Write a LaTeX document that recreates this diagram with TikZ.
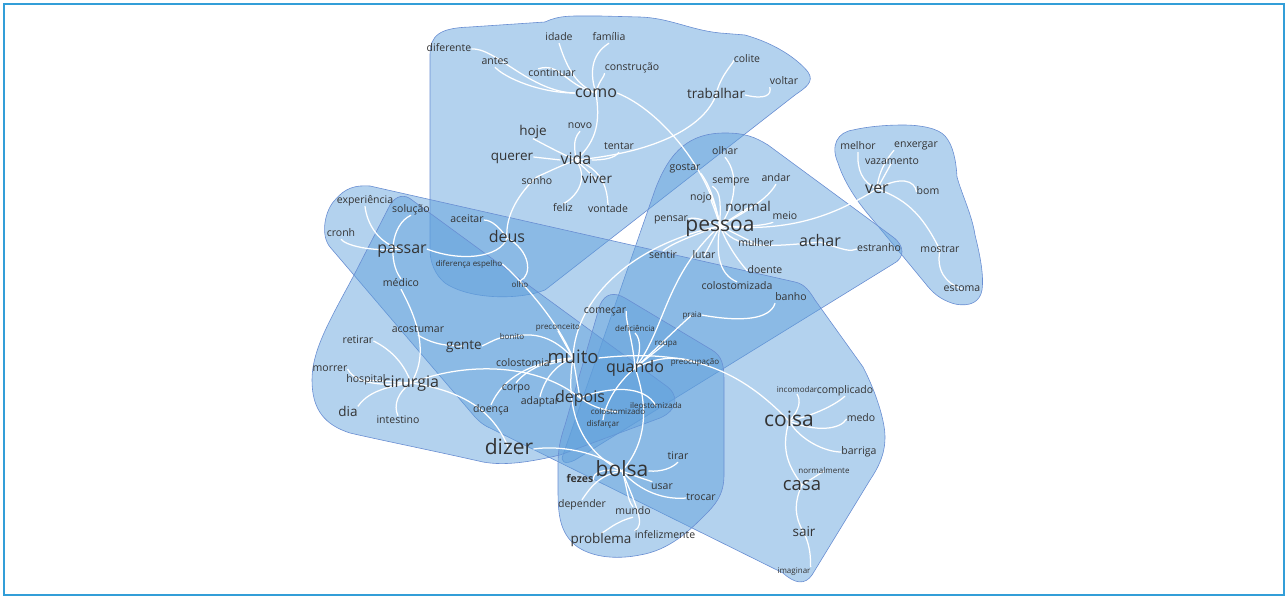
\documentclass[tikz,border=0pt]{standalone}
\usepackage{fontspec}
\setmainfont{Open Sans}
\definecolor{halofill}{RGB}{94,159,219}
\definecolor{haloline}{RGB}{105,142,210}
\definecolor{txt}{RGB}{51,51,51}
\definecolor{framec}{RGB}{50,158,216}
\pgfdeclarelayer{halos}
\pgfdeclarelayer{edges}
\pgfsetlayers{halos,edges,main}
\tikzset{
  lbl/.style={inner sep=0pt, text=txt},
  sA/.style={lbl, font=\fontsize{8}{8}\selectfont, text height=6pt, text depth=1.6pt},
  sB/.style={lbl, font=\fontsize{10.5}{10.5}\selectfont, text height=7.9pt, text depth=2.1pt},
  sC/.style={lbl, font=\fontsize{13.5}{13.5}\selectfont, text height=10.1pt, text depth=2.7pt},
  sD/.style={lbl, font=\fontsize{16}{16}\selectfont, text height=12pt, text depth=3.2pt},
  sE/.style={lbl, font=\fontsize{18.5}{18.5}\selectfont, text height=13.9pt, text depth=3.7pt},
  sF/.style={lbl, font=\fontsize{21}{21}\selectfont, text height=15.8pt, text depth=4.2pt},
  edge/.style={draw=white, line width=1.25pt},
  halo/.style={fill=halofill, fill opacity=0.47, draw=haloline, line width=0.6pt},
  framebox/.style={draw=framec, line width=1.6pt}
}
\begin{document}
\begin{tikzpicture}[x=1pt,y=-1pt]
\useasboundingbox (0,0) rectangle (1288,596);
\draw[framebox] (4,4) rectangle (1284,595);

% ---------- nodes
\node[sB] (diferente) at (449,49) {diferente};
\node[sB] (antes) at (495,62) {antes};
\node[sB] (idade) at (559,38) {idade};
\node[sB] (familia) at (609,38) {família};
\node[sB] (continuar) at (552,74) {continuar};
\node[sB] (construcao) at (632,68) {construção};
\node[sD] (como) at (596,93) {como};
\node[sB] (colite) at (747,60) {colite};
\node[sB] (voltar) at (784,82) {voltar};
\node[sC] (trabalhar) at (716,95) {trabalhar};
\node[sC] (hoje) at (533,132) {hoje};
\node[sB] (novo) at (580,126) {novo};
\node[sC] (querer) at (512,157) {querer};
\node[sD] (vida) at (576,160) {vida};
\node[sB] (tentar) at (619,147) {tentar};
\node[sB] (sonho) at (537,182) {sonho};
\node[sC] (viver) at (597,180) {viver};
\node[sB] (feliz) at (563,209) {feliz};
\node[sB] (vontade) at (608,210) {vontade};

\node[sB] (experiencia) at (365,201) {experiência};
\node[sB] (solucao) at (411,210) {solução};
\node[sB] (cronh) at (341,234) {cronh};
\node[sD] (passar) at (402,249) {passar};
\node[sB] (aceitar) at (467,220) {aceitar};
\node[sD] (deus) at (507,238) {deus};
\node[sA] (difesp) at (469,264) {diferença espelho};
\node[sA] (olho) at (520,285) {olho};
\node[sB] (medico) at (401,284) {médico};

\node[sB] (acostumar) at (418,330) {acostumar};
\node[sB] (retirar) at (358,341) {retirar};
\node[sC] (gente) at (464,346) {gente};
\node[sB] (morrer) at (330,369) {morrer};
\node[sB] (hospital) at (366,380) {hospital};
\node[sD] (cirurgia) at (411,383) {cirurgia};
\node[sC] (dia) at (348,413) {dia};
\node[sB] (intestino) at (398,421) {intestino};
\node[sA] (bonito) at (512,337) {bonito};
\node[sA] (preconceito) at (558,327) {preconceito};
\node[sB] (colostomia) at (523,364) {colostomia};
\node[sE] (muito) at (573,358) {muito};
\node[sB] (corpo) at (516,388) {corpo};
\node[sB] (doenca) at (491,410) {doença};
\node[sB] (adaptar) at (540,402) {adaptar};
\node[sD] (depois) at (580,398) {depois};
\node[sF] (dizer) at (509,449) {dizer};

\node[sB] (olhar) at (725,152) {olhar};
\node[sB] (gostar) at (685,168) {gostar};
\node[sB] (sempre) at (731,181) {sempre};
\node[sB] (andar) at (776,179) {andar};
\node[sB] (nojo) at (701,198) {nojo};
\node[sC] (normal) at (748,208) {normal};
\node[sB] (meio) at (785,217) {meio};
\node[sB] (pensar) at (671,219) {pensar};
\node[sF] (pessoa) at (720,226) {pessoa};
\node[sB] (mulher) at (756,244) {mulher};
\node[sD] (achar) at (820,242) {achar};
\node[sB] (estranho) at (879,249) {estranho};
\node[sB] (sentir) at (663,256) {sentir};
\node[sB] (lutar) at (704,256) {lutar};
\node[sB] (doente) at (765,271) {doente};
\node[sB] (colostomizada) at (737,287) {colostomizada};
\node[sB] (banho) at (791,298) {banho};
\node[sA] (praia) at (692,315) {praia};

\node[sB] (melhor) at (858,147) {melhor};
\node[sB] (enxergar) at (916,145) {enxergar};
\node[sB] (vazamento) at (892,162) {vazamento};
\node[sD] (ver) at (877,189) {ver};
\node[sB] (bom) at (928,192) {bom};
\node[sB] (mostrar) at (940,250) {mostrar};
\node[sB] (estoma) at (962,289) {estoma};

\node[sB] (comecar) at (605,311) {começar};
\node[sA] (deficiencia) at (635,329) {deficiência};
\node[sA] (roupa) at (666,343) {roupa};
\node[sD] (quando) at (635,368) {quando};
\node[sA] (preocupacao) at (695,362) {preocupação};
\node[sA] (ileostomizada) at (656,406) {ileostomizada};
\node[sA] (colostomizado) at (618,412) {colostomizado};
\node[sA] (disfarcar) at (603,424) {disfarçar};

\node[sF] (bolsa) at (622,471) {bolsa};
\node[sB] (tirar) at (678,457) {tirar};
\node[sB, font=\bfseries\fontsize{10.5}{10.5}\selectfont] (fezes) at (580,480) {fezes};
\node[sB] (usar) at (662,487) {usar};
\node[sB] (trocar) at (701,498) {trocar};
\node[sB] (depender) at (582,505) {depender};
\node[sB] (mundo) at (633,512) {mundo};
\node[sC] (problema) at (601,540) {problema};
\node[sB] (infelizmente) at (665,536) {infelizmente};

\node[sA] (incomodar) at (797,390) {incomodar};
\node[sB] (complicado) at (845,391) {complicado};
\node[sF] (coisa) at (789,421) {coisa};
\node[sB] (medo) at (861,419) {medo};
\node[sB] (barriga) at (859,452) {barriga};
\node[sA] (normalmente) at (824,471) {normalmente};
\node[sE] (casa) at (802,485) {casa};
\node[sC] (sair) at (804,533) {sair};
\node[sA] (imaginar) at (794,571) {imaginar};

% ---------- halos
\begin{pgfonlayer}{halos}
% como / vida / deus
\path[halo] (430,250) -- (430,55) .. controls (430,35) and (440,28) .. (470,27) -- (545,22)
  .. controls (560,15) and (570,16) .. (600,16) -- (640,17) .. controls (670,18) and (690,30) .. (720,33)
  -- (745,35) .. controls (780,45) and (800,62) .. (808,72) .. controls (815,82) and (805,88) .. (795,95)
  -- (545,290) .. controls (520,300) and (470,300) .. (445,283) .. controls (435,275) and (430,262) .. (430,250) -- cycle;
% ver
\path[halo] (838,163) .. controls (830,145) and (838,132) .. (853,130) .. controls (870,126) and (890,125) .. (903,125)
  .. controls (920,125) and (938,128) .. (945,136) .. controls (953,145) and (956,160) .. (957,177)
  .. controls (962,195) and (972,215) .. (975,235) .. controls (980,255) and (984,275) .. (982,290)
  .. controls (980,302) and (970,307) .. (955,304) .. controls (940,300) and (932,292) .. (925,283)
  -- (873,220) .. controls (860,205) and (845,185) .. (838,163) -- cycle;
% pessoa
\path[halo] (563,455) -- (655,190) .. controls (670,150) and (690,133) .. (725,133) .. controls (745,133) and (755,137) .. (768,145)
  -- (893,237) .. controls (905,246) and (905,258) .. (893,264) -- (575,460) .. controls (565,465) and (560,462) .. (563,455) -- cycle;
% passar ... coisa band
\path[halo] (335,200) .. controls (345,188) and (355,185) .. (370,186) -- (795,282) .. controls (805,284) and (810,292) .. (815,300)
  -- (863,367) .. controls (875,390) and (885,420) .. (885,437) .. controls (885,455) and (878,468) .. (870,480)
  -- (812,575) .. controls (805,585) and (795,584) .. (783,573) -- (490,428) .. controls (483,425) and (480,422) .. (475,417)
  -- (330,247) .. controls (320,235) and (325,210) .. (335,200) -- cycle;
% cirurgia / muito / depois
\path[halo] (390,205) -- (353,277) .. controls (330,320) and (312,350) .. (312,380) .. controls (312,410) and (325,425) .. (350,433)
  .. controls (380,440) and (430,450) .. (483,462) .. controls (505,466) and (530,462) .. (560,455)
  -- (660,418) .. controls (678,410) and (680,395) .. (665,385) -- (412,200) .. controls (405,194) and (396,195) .. (390,205) -- cycle;
% bolsa / quando
\path[halo] (600,305) .. controls (605,293) and (615,292) .. (625,298) -- (712,350) .. controls (722,356) and (724,365) .. (724,380)
  -- (724,475) .. controls (724,495) and (715,505) .. (705,515) .. controls (690,530) and (670,550) .. (640,555)
  .. controls (615,560) and (590,557) .. (575,545) .. controls (560,532) and (558,515) .. (558,490)
  -- (558,465) .. controls (558,450) and (560,440) .. (565,425) -- cycle;
\end{pgfonlayer}

% ---------- edges
\begin{pgfonlayer}{edges}
% como
\draw[edge] (diferente.east) .. controls (495,47) and (530,92) .. (como.west);
\draw[edge] (antes.south) .. controls (505,78) and (540,93) .. (como.west);
\draw[edge] ([xshift=10pt]continuar.north west) .. controls (560,62) and (565,85) .. (como.center);
\draw[edge] (idade.south) .. controls (566,65) and (575,85) .. (como.center);
\draw[edge] (familia.south) .. controls (590,55) and (590,75) .. (como.center);
\draw[edge] (construcao.south west) .. controls (605,76) and (598,82) .. (como.center);
\draw[edge] (como.center) .. controls (600,120) and (598,140) .. (vida.center);
\draw[edge] (como.east) .. controls (660,110) and (710,170) .. (pessoa.center);
% vida
\draw[edge] (trabalhar.center) .. controls (705,125) and (660,152) .. (vida.center);
\draw[edge] (trabalhar.center) .. controls (720,75) and (735,62) .. (colite.west);
\draw[edge] (trabalhar.east) .. controls (765,100) and (772,95) .. (voltar.south west);
\draw[edge] (vida.east) .. controls (605,160) and (615,158) .. (tentar.south);
\draw[edge] (hoje.south) .. controls (545,145) and (560,153) .. (vida.center);
\draw[edge] (querer.east) -- (vida.west);
\draw[edge] (novo.south) .. controls (572,140) and (575,150) .. (vida.center);
\draw[edge] (vida.center) .. controls (560,166) and (548,172) .. (sonho.north);
\draw[edge] (sonho.north) .. controls (520,192) and (505,215) .. (deus.center);
\draw[edge] (vida.center) .. controls (590,180) and (575,198) .. (feliz.north);
\draw[edge] (vida.center) .. controls (603,170) and (607,188) .. (vontade.north);
\draw[edge] (vida.center) -- (viver.center);
% deus / passar
\draw[edge] (aceitar.east) .. controls (492,220) and (500,228) .. (deus.center);
\draw[edge] (passar.east) .. controls (460,262) and (500,258) .. (deus.center);
\draw[edge] (deus.center) .. controls (530,250) and (533,275) .. (olho.north);
\draw[edge] (difesp.east) .. controls (515,275) and (555,315) .. (muito.center);
\draw[edge] (experiencia.south) .. controls (367,225) and (380,245) .. (passar.center);
\draw[edge] (cronh.south) .. controls (345,245) and (370,252) .. (passar.center);
\draw[edge] (solucao.south) .. controls (390,225) and (388,262) .. (medico.north);
\draw[edge] (medico.south) .. controls (412,310) and (432,350) .. (cirurgia.center);
% cirurgia
\draw[edge] (acostumar.south) .. controls (430,342) and (440,346) .. (gente.center);
\draw[edge] (gente.east) .. controls (495,340) and (500,336) .. (bonito.center);
\draw[edge] (bonito.center) .. controls (535,331) and (555,338) .. (muito.center);
\draw[edge] (retirar.east) .. controls (392,350) and (405,365) .. (cirurgia.center);
\draw[edge] (morrer.east) .. controls (352,377) and (365,388) .. (cirurgia.center);
\draw[edge] (hospital.center) -- (cirurgia.center);
\draw[edge] (dia.north east) .. controls (365,397) and (375,388) .. (cirurgia.center);
\draw[edge] (intestino.north) .. controls (393,405) and (398,392) .. (cirurgia.center);
\draw[edge] (cirurgia.center) .. controls (470,360) and (540,365) .. (depois.center);
\draw[edge] (cirurgia.center) .. controls (470,392) and (495,415) .. (dizer.center);
% muito
\draw[edge] (colostomia.east) -- (muito.center);
\draw[edge] (preconceito.south) -- (muito.center);
\draw[edge] (corpo.north) .. controls (522,375) and (540,360) .. (muito.center);
\draw[edge] (doenca.north) .. controls (503,378) and (530,362) .. (muito.center);
\draw[edge] (adaptar.north) .. controls (544,380) and (555,365) .. (muito.center);
\draw[edge] (muito.center) .. controls (565,405) and (578,450) .. (bolsa.center);
\draw[edge] (dizer.east) .. controls (560,445) and (600,452) .. (bolsa.center);
\draw[edge] (muito.east) .. controls (690,348) and (740,370) .. (coisa.center);
\draw[edge] (pessoa.center) .. controls (630,245) and (575,300) .. (muito.center);
\draw[edge] (muito.center) -- (depois.center);
\draw[edge] (depois.center) .. controls (610,386) and (645,385) .. (ileostomizada.center);
\draw[edge] (depois.center) .. controls (590,405) and (600,410) .. (colostomizado.center);
% quando
\draw[edge] (comecar.east) .. controls (625,320) and (633,340) .. (quando.center);
\draw[edge] (deficiencia.south) .. controls (642,340) and (640,355) .. (quando.center);
\draw[edge] (quando.center) .. controls (655,350) and (680,325) .. (praia.center);
\draw[edge] (praia.east) .. controls (740,322) and (770,320) .. (banho.south west);
\draw[edge] (roupa.center) -- (quando.center);
\draw[edge] (quando.center) .. controls (655,358) and (675,355) .. (preocupacao.center);
\draw[edge] (pessoa.center) .. controls (665,275) and (665,330) .. (quando.center);
\draw[edge] (quando.center) .. controls (615,385) and (605,405) .. (disfarcar.north);
\draw[edge] (quando.center) .. controls (650,410) and (645,445) .. (bolsa.center);
% bolsa
\draw[edge] (bolsa.east) .. controls (662,472) and (672,468) .. (tirar.south);
\draw[edge] (bolsa.center) .. controls (645,480) and (655,482) .. (usar.north west);
\draw[edge] (bolsa.center) .. controls (640,492) and (665,500) .. (trocar.west);
\draw[edge] (fezes.east) .. controls (592,472) and (605,468) .. (bolsa.center);
\draw[edge] (depender.north) .. controls (592,485) and (600,475) .. (bolsa.center);
\draw[edge] (bolsa.center) .. controls (627,485) and (627,500) .. (mundo.north);
\draw[edge] (mundo.south) .. controls (615,522) and (608,530) .. (problema.north);
\draw[edge] (bolsa.center) .. controls (638,510) and (645,525) .. (infelizmente.north west);
% pessoa
\draw[edge] (olhar.south) .. controls (740,175) and (735,205) .. (pessoa.center);
\draw[edge] (gostar.south east) .. controls (710,185) and (716,205) .. (pessoa.center);
\draw[edge] (sempre.south west) .. controls (722,192) and (720,205) .. (pessoa.center);
\draw[edge] (andar.south) .. controls (767,200) and (745,212) .. (pessoa.center);
\draw[edge] (nojo.east) .. controls (708,196) and (714,205) .. (pessoa.center);
\draw[edge] (pessoa.center) -- (normal.center);
\draw[edge] (pessoa.center) .. controls (760,228) and (775,222) .. (meio.south west);
\draw[edge] (pessoa.center) .. controls (800,234) and (845,208) .. (ver.center);
\draw[edge] (pensar.east) .. controls (692,217) and (700,218) .. (pessoa.center);
\draw[edge] (pessoa.center) .. controls (735,248) and (760,248) .. (achar.center);
\draw[edge] (pessoa.center) -- (mulher.center);
\draw[edge] (achar.center) .. controls (845,250) and (850,252) .. (estranho.west);
\draw[edge] (pessoa.center) .. controls (685,238) and (670,245) .. (sentir.north);
\draw[edge] (pessoa.center) -- (lutar.center);
\draw[edge] (pessoa.center) .. controls (730,252) and (745,268) .. (doente.west);
\draw[edge] (pessoa.center) .. controls (715,255) and (720,275) .. (colostomizada.north);
% ver
\draw[edge] (melhor.south) .. controls (857,170) and (862,182) .. (ver.center);
\draw[edge] (enxergar.south west) .. controls (890,155) and (878,170) .. (ver.center);
\draw[edge] (vazamento.center) -- (ver.center);
\draw[edge] (ver.center) .. controls (900,176) and (915,180) .. (bom.west);
\draw[edge] (ver.center) .. controls (910,200) and (925,220) .. (mostrar.center);
\draw[edge] (mostrar.center) .. controls (936,270) and (945,283) .. (estoma.center);
% coisa
\draw[edge] (incomodar.south) .. controls (801,400) and (800,410) .. (coisa.center);
\draw[edge] (complicado.south) .. controls (835,405) and (815,415) .. (coisa.center);
\draw[edge] (coisa.center) .. controls (815,432) and (840,430) .. (medo.west);
\draw[edge] (coisa.center) .. controls (800,440) and (825,452) .. (barriga.west);
\draw[edge] (coisa.center) .. controls (780,452) and (790,468) .. (casa.center);
\draw[edge] (casa.center) -- (normalmente.center);
\draw[edge] (casa.center) .. controls (795,500) and (793,515) .. (sair.center);
\draw[edge] (sair.center) .. controls (812,550) and (810,562) .. (imaginar.north east);
\end{pgfonlayer}
\end{tikzpicture}
\end{document}
